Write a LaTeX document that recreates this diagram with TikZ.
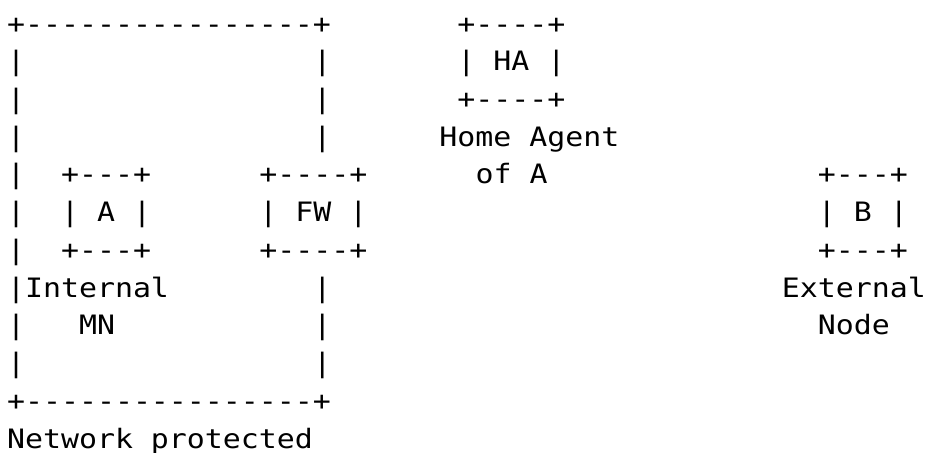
\documentclass[tikz,border=0pt]{standalone}
\usepackage{fontspec}
\newfontfamily\asciifont[FakeStretch=1.12]{DejaVu Sans Mono}
\newcommand\dashrun[1]{\foreach\dashi in {1,...,#1}{-\kern0pt}}
\tikzset{asc/.style={anchor=base west, inner sep=0pt, outer sep=0pt,
  font=\asciifont\fontsize{20pt}{24pt}\selectfont, text=black}}
\begin{document}
\begin{tikzpicture}[x=13.5pt, y=-28.275pt]
\useasboundingbox (-5.25pt,24.75pt) rectangle (689.25pt,-314.25pt);
% row 0
\node[asc] (netTop) at (0,0) {+\dashrun{16}+};
\node[asc] (haTop) at (25,0) {+\dashrun{4}+};
% row 1
\node[asc] (l1) at (0,1) {|};
\node[asc] (r1) at (17,1) {|};
\node[asc] (ha) at (25,1) {| HA |};
% row 2
\node[asc] (l2) at (0,2) {|};
\node[asc] (r2) at (17,2) {|};
\node[asc] (haBot) at (25,2) {+\dashrun{4}+};
% row 3
\node[asc] (l3) at (0,3) {|};
\node[asc] (r3) at (17,3) {|};
\node[asc] (haLbl1) at (24,3) {Home Agent};
% row 4
\node[asc] (l4) at (0,4) {|};
\node[asc] (aTop) at (3,4) {+\dashrun{3}+};
\node[asc] (fwTop) at (14,4) {+\dashrun{4}+};
\node[asc] (haLbl2) at (26,4) {of A};
\node[asc] (bTop) at (45,4) {+\dashrun{3}+};
% row 5
\node[asc] (l5) at (0,5) {|};
\node[asc] (a) at (3,5) {| A |};
\node[asc] (fw) at (14,5) {| FW |};
\node[asc] (b) at (45,5) {| B |};
% row 6
\node[asc] (l6) at (0,6) {|};
\node[asc] (aBot) at (3,6) {+\dashrun{3}+};
\node[asc] (fwBot) at (14,6) {+\dashrun{4}+};
\node[asc] (bBot) at (45,6) {+\dashrun{3}+};
% row 7
\node[asc] (aLbl1) at (0,7) {|Internal};
\node[asc] (r7) at (17,7) {|};
\node[asc] (bLbl1) at (43,7) {External};
% row 8
\node[asc] (l8) at (0,8) {|};
\node[asc] (aLbl2) at (4,8) {MN};
\node[asc] (r8) at (17,8) {|};
\node[asc] (bLbl2) at (45,8) {Node};
% row 9
\node[asc] (l9) at (0,9) {|};
\node[asc] (r9) at (17,9) {|};
% row 10
\node[asc] (netBot) at (0,10) {+\dashrun{16}+};
% row 11
\node[asc] (netLbl) at (0,11) {Network protected};
\end{tikzpicture}
\end{document}
